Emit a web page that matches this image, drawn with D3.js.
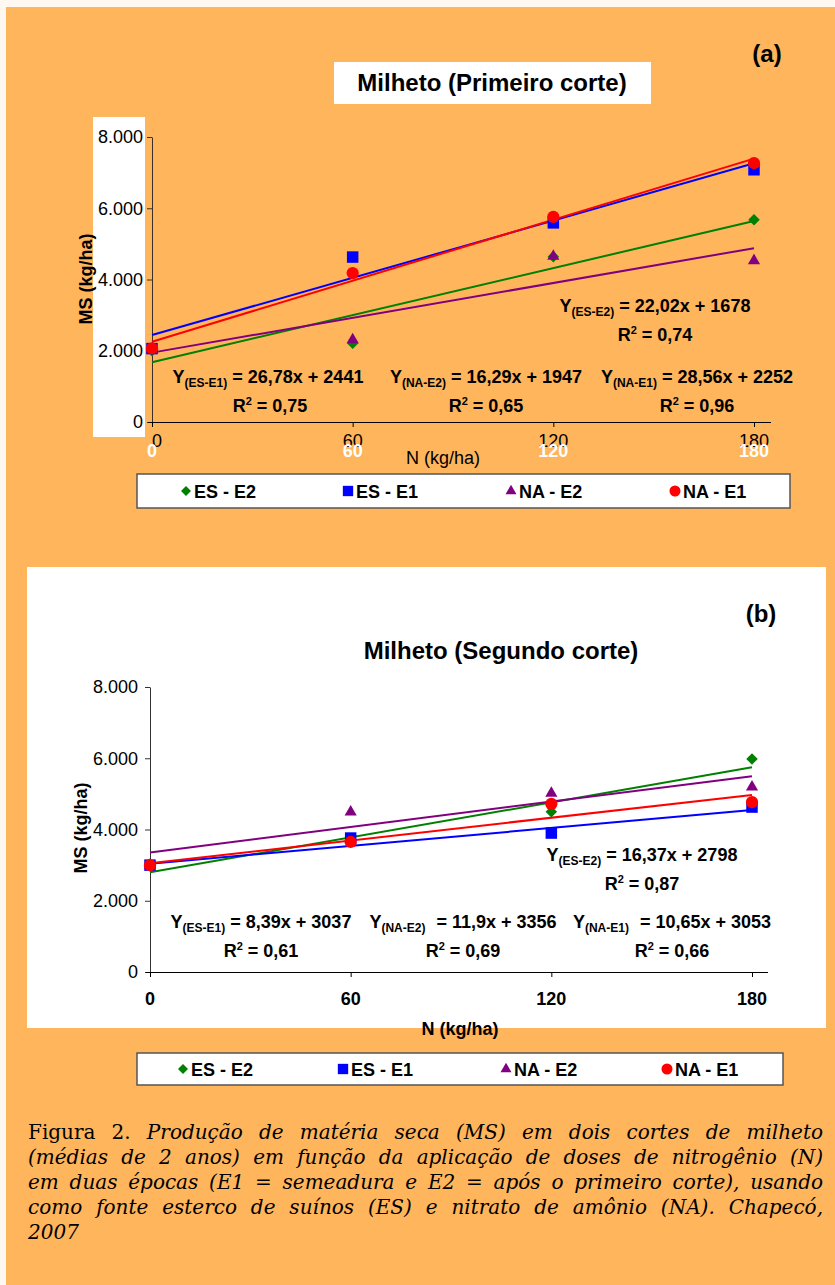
<!DOCTYPE html>
<html>
<head>
<meta charset="utf-8">
<script src="https://cdn.jsdelivr.net/npm/d3@7"></script>
<style>
  body { margin: 0; background: #fff8f0; }
  svg { display: block; font-family: "Liberation Sans", Arial, sans-serif; }
</style>
</head>
<body>
<svg id="chart" width="835" height="1285"></svg>
<script>
const doses = [0, 60, 120, 180];
const seriesNames = ["ES - E2", "ES - E1", "NA - E2", "NA - E1"];
const seriesSubs = ["ES-E2", "ES-E1", "NA-E2", "NA-E1"];
const yTicks = [0, 2000, 4000, 6000, 8000];

// primeiro corte
const esE2Cut1 = [2000, 2210, 4640, 5680];
const esE1Cut1 = [2060, 4630, 5590, 7080];
const naE2Cut1 = [2020, 2310, 4650, 4530];
const naE1Cut1 = [2070, 4180, 5760, 7270];
const slopesCut1 = [22.02, 26.78, 16.29, 28.56];
const interceptsCut1 = [1678, 2441, 1947, 2252];
const r2Cut1 = [0.74, 0.75, 0.65, 0.96];

// segundo corte
const esE2Cut2 = [2980, 3700, 4500, 5980];
const esE1Cut2 = [3000, 3760, 3900, 4630];
const naE2Cut2 = [3000, 4490, 5020, 5190];
const naE1Cut2 = [3000, 3650, 4720, 4770];
const slopesCut2 = [16.37, 8.39, 11.9, 10.65];
const interceptsCut2 = [2798, 3037, 3356, 3053];
const r2Cut2 = [0.87, 0.61, 0.69, 0.66];

const colors = ["#008000", "#0000ff", "#800080", "#ff0000"];
const orange = "#ffb55c";
const sans = "'Liberation Sans', Arial, sans-serif";

const svg = d3.select("#chart");

svg.append("rect").attr("x", 6).attr("y", 7).attr("width", 829).attr("height", 1278).attr("fill", orange);

const comma = (v) => String(v).replace(".", ",");
const fmtTick = (d) => d3.format(",")(d).replace(/,/g, ".");

function marker(sel, i, scale) {
  const s = scale || 1;
  if (i === 1) {
    sel.append("path").attr("d", d3.symbol(d3.symbolSquare, 132 * s * s));
  } else if (i === 2) {
    sel.append("path").attr("d", d3.symbol(d3.symbolTriangle, 64 * s * s));
  } else {
    sel.append("path").attr("d", d3.symbol(d3.symbolCircle, 118 * s * s));
  }
}

function drawPanel(cfg) {
  const g = svg.append("g");
  const x = d3.scaleLinear().domain([0, 180]).range(cfg.xRange);
  const y = d3.scaleLinear().domain([0, 8000]).range(cfg.yRange);

  // y axis
  const ya = g.append("g")
    .attr("transform", `translate(${cfg.xRange[0]},0)`)
    .call(d3.axisLeft(y).tickValues(yTicks).tickFormat(fmtTick).tickSize(5).tickPadding(cfg.yPad).tickSizeOuter(0));
  ya.select(".domain").attr("stroke", cfg.yAxisColor);
  ya.selectAll(".tick line").attr("stroke", cfg.yAxisColor);
  ya.selectAll("text").attr("font-size", 18).attr("fill", "#000").attr("font-family", sans);

  // x axis
  const xa = g.append("g")
    .attr("transform", `translate(0,${cfg.yRange[0]})`)
    .call(d3.axisBottom(x).tickValues(doses).tickSize(5).tickFormat(""));
  xa.select(".domain").remove();
  xa.selectAll(".tick line").attr("stroke", "#000");
  g.append("line")
    .attr("x1", cfg.xRange[0] - 4).attr("x2", cfg.xEnd)
    .attr("y1", cfg.yRange[0] + 0.5).attr("y2", cfg.yRange[0] + 0.5)
    .attr("stroke", "#000");

  cfg.xLabels.forEach((lab) => {
    g.selectAll(null).data(doses).join("text")
      .attr("x", (d) => x(d) + (d === 0 ? lab.zeroShift || 0 : 0))
      .attr("y", lab.y)
      .attr("text-anchor", "middle")
      .attr("font-size", 18)
      .attr("font-weight", lab.bold ? "bold" : "normal")
      .attr("fill", lab.color)
      .text((d) => d);
  });

  // trend lines
  cfg.slopes.forEach((a, i) => {
    g.append("line")
      .attr("x1", x(0)).attr("y1", y(cfg.intercepts[i]))
      .attr("x2", x(180)).attr("y2", y(cfg.intercepts[i] + a * 180))
      .attr("stroke", colors[i]).attr("stroke-width", 2);
  });

  // points
  cfg.values.forEach((vals, i) => {
    const pts = g.selectAll(null)
      .data(vals.map((v, k) => ({ px: x(doses[k]), py: y(v) })))
      .join("g").attr("fill", colors[i]);
    if (i === 0) {
      pts.append("path").attr("d", d3.symbol(d3.symbolSquare, 66))
        .attr("transform", (d) => `translate(${d.px},${d.py}) rotate(45)`);
    } else {
      pts.attr("transform", (d) => `translate(${d.px},${d.py})`);
      marker(pts, i);
    }
  });

  // equations
  cfg.eqPos.forEach((p, i) => {
    const t = g.append("text")
      .attr("x", p.x).attr("y", p.y)
      .attr("text-anchor", "middle")
      .attr("font-size", 18).attr("font-weight", "bold");
    t.append("tspan").text("Y");
    t.append("tspan").attr("font-size", 12).attr("dy", 4).text(`(${seriesSubs[i]})`);
    t.append("tspan").attr("dy", -4).attr("dx", p.gap || 0)
      .text(` = ${comma(cfg.slopes[i])}x + ${cfg.intercepts[i]}`);

    const r = g.append("text")
      .attr("x", p.rx || p.x).attr("y", p.y + 29)
      .attr("text-anchor", "middle")
      .attr("font-size", 18).attr("font-weight", "bold");
    r.append("tspan").text("R");
    r.append("tspan").attr("font-size", 11).attr("dy", -7).text("2");
    r.append("tspan").attr("dy", 7).text(` = ${comma(cfg.r2[i])}`);
  });

  // axis titles
  g.append("text")
    .attr("transform", `translate(${cfg.yTitleX},${cfg.yTitleY}) rotate(-90)`)
    .attr("text-anchor", "middle")
    .attr("font-size", 18).attr("font-weight", "bold")
    .text("MS (kg/ha)");

  g.append("text")
    .attr("x", cfg.xTitleX).attr("y", cfg.xTitleY)
    .attr("text-anchor", "middle")
    .attr("font-size", 18).attr("font-weight", cfg.xTitleBold ? "bold" : "normal")
    .text("N (kg/ha)");

  // legend
  const lg = g.append("g");
  lg.append("rect")
    .attr("x", cfg.legend.x).attr("y", cfg.legend.y)
    .attr("width", cfg.legend.w).attr("height", cfg.legend.h)
    .attr("fill", "#fff").attr("stroke", "#555").attr("stroke-width", 1.5);
  const cy = cfg.legend.y + cfg.legend.h / 2;
  seriesNames.forEach((name, i) => {
    const mx = cfg.legend.items[i];
    const m = lg.append("g").attr("fill", colors[i]);
    if (i === 0) {
      m.append("path").attr("d", d3.symbol(d3.symbolSquare, 50))
        .attr("transform", `translate(${mx},${cy}) rotate(45)`);
    } else {
      m.attr("transform", `translate(${mx},${cy})`);
      marker(m, i, 0.9);
    }
    lg.append("text")
      .attr("x", mx + 8).attr("y", cy + 6.5)
      .attr("font-size", 18).attr("font-weight", "bold")
      .text(name);
  });
}

// ---------- panel (a) ----------
svg.append("rect").attr("x", 93).attr("y", 117).attr("width", 52).attr("height", 320).attr("fill", "#fff");
svg.append("rect").attr("x", 334).attr("y", 62).attr("width", 317).attr("height", 42).attr("fill", "#fff");
svg.append("text").attr("x", 492).attr("y", 91).attr("text-anchor", "middle")
  .attr("font-size", 24).attr("font-weight", "bold").text("Milheto (Primeiro corte)");
svg.append("text").attr("x", 767).attr("y", 62).attr("text-anchor", "middle")
  .attr("font-size", 24).attr("font-weight", "bold").text("(a)");

drawPanel({
  xRange: [152, 754], yRange: [422, 137], xEnd: 771,
  yPad: 4, yAxisColor: "#3a3027",
  xLabels: [{ y: 447, bold: false, color: "#000", zeroShift: 5 }, { y: 457, bold: true, color: "#fff" }],
  values: [esE2Cut1, esE1Cut1, naE2Cut1, naE1Cut1],
  slopes: slopesCut1, intercepts: interceptsCut1, r2: r2Cut1,
  eqPos: [{ x: 655, y: 312 }, { x: 268, y: 383, rx: 270 }, { x: 486, y: 383 }, { x: 697, y: 383 }],
  yTitleX: 92, yTitleY: 279,
  xTitleX: 443, xTitleY: 464, xTitleBold: false,
  legend: { x: 137, y: 474, w: 653, h: 34, items: [186, 348, 511, 675] }
});

// ---------- panel (b) ----------
svg.append("rect").attr("x", 27).attr("y", 567).attr("width", 799).attr("height", 461).attr("fill", "#fff");
svg.append("text").attr("x", 501).attr("y", 659).attr("text-anchor", "middle")
  .attr("font-size", 24).attr("font-weight", "bold").text("Milheto (Segundo corte)");
svg.append("text").attr("x", 761).attr("y", 622).attr("text-anchor", "middle")
  .attr("font-size", 24).attr("font-weight", "bold").text("(b)");

drawPanel({
  xRange: [150, 752], yRange: [972, 687], xEnd: 768,
  yPad: 7, yAxisColor: "#333",
  xLabels: [{ y: 1005, bold: true, color: "#000" }],
  values: [esE2Cut2, esE1Cut2, naE2Cut2, naE1Cut2],
  slopes: slopesCut2, intercepts: interceptsCut2, r2: r2Cut2,
  eqPos: [{ x: 642, y: 861 }, { x: 261, y: 928 }, { x: 463, y: 928, gap: 6 }, { x: 672, y: 928, gap: 6 }],
  yTitleX: 87, yTitleY: 828,
  xTitleX: 460, xTitleY: 1035, xTitleBold: true,
  legend: { x: 137, y: 1053, w: 646, h: 32, items: [183, 343, 506, 667] }
});

// ---------- caption (justified by word spacing) ----------
const cap = svg.append("g").attr("font-family", "'DejaVu Serif', serif").attr("font-size", 20);
const capLines = [
  ["Figura 2. ", "Produção de matéria seca (MS) em dois cortes de milheto"],
  ["", "(médias de 2 anos) em função da aplicação de doses de nitrogênio (N)"],
  ["", "em duas épocas (E1 = semeadura e E2 = após o primeiro corte), usando"],
  ["", "como fonte esterco de suínos (ES) e nitrato de amônio (NA). Chapecó,"],
  ["", "2007"]
];
capLines.forEach((ln, i) => {
  const t = cap.append("text").attr("x", 28).attr("y", 1139 + i * 25);
  if (ln[0]) t.append("tspan").text(ln[0]);
  t.append("tspan").attr("font-style", "italic").text(ln[1]);
  if (i < 4) {
    const full = ln[0] + ln[1];
    const spaces = (full.trim().match(/ /g) || []).length;
    const len = t.node().getComputedTextLength();
    t.attr("word-spacing", Math.max(0, (795 - len) / spaces));
    if (len > 795) t.attr("textLength", 795).attr("lengthAdjust", "spacingAndGlyphs");
  }
});
</script>
</body>
</html>
